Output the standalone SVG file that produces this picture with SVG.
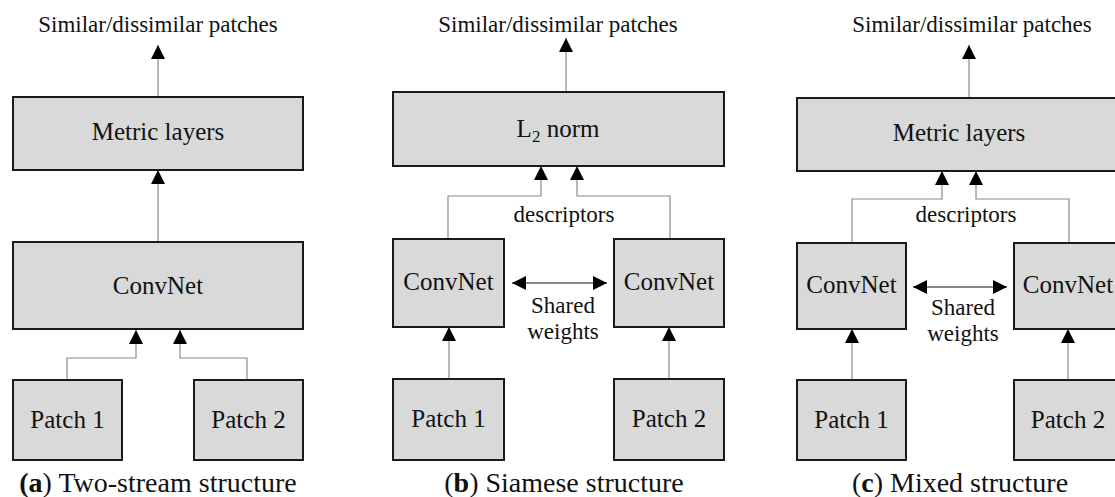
<svg xmlns="http://www.w3.org/2000/svg" width="1115" height="497" viewBox="0 0 1115 497">
<style>
.box{fill:#d9d9d9;stroke:#1a1a1a;stroke-width:2}
.t{font-family:"Liberation Serif","Times New Roman",serif;fill:#111;text-anchor:middle}
.lbl{font-size:25px}
.top{font-size:23px}
.small{font-size:23px}
.cap{font-size:28px}
.ln{fill:none;stroke:#8a8a8a;stroke-width:1.2}
.dbl{fill:none;stroke:#111;stroke-width:1.2}
</style>
<defs>
<marker id="ah" viewBox="0 0 14 14" refX="14" refY="7" markerWidth="14" markerHeight="14" markerUnits="userSpaceOnUse" orient="auto-start-reverse">
<path d="M0,0 L14,7 L0,14 Z" fill="#000"/>
</marker>
</defs>
<rect width="1115" height="497" fill="#fff"/>

<g id="connectors">
<!-- panel a -->
<line class="ln" x1="158" y1="97" x2="158" y2="45" marker-end="url(#ah)"/>
<line class="ln" x1="158" y1="242" x2="158" y2="170" marker-end="url(#ah)"/>
<polyline class="ln" points="67,380 67,358 136,358 136,330" marker-end="url(#ah)"/>
<polyline class="ln" points="247,380 247,358 180,358 180,330" marker-end="url(#ah)"/>
<!-- panel b -->
<line class="ln" x1="566" y1="92" x2="566" y2="38" marker-end="url(#ah)"/>
<polyline class="ln" points="448,239 448,196 541,196 541,166" marker-end="url(#ah)"/>
<polyline class="ln" points="670,239 670,196 577,196 577,166" marker-end="url(#ah)"/>
<line class="dbl" x1="512" y1="283" x2="607" y2="283" marker-start="url(#ah)" marker-end="url(#ah)"/>
<line class="ln" x1="449" y1="379" x2="449" y2="327" marker-end="url(#ah)"/>
<line class="ln" x1="669" y1="379" x2="669" y2="327" marker-end="url(#ah)"/>
<!-- panel c -->
<line class="ln" x1="969" y1="98" x2="969" y2="45" marker-end="url(#ah)"/>
<polyline class="ln" points="852,243 852,199 942,199 942,171" marker-end="url(#ah)"/>
<polyline class="ln" points="1069,243 1069,199 976,199 976,171" marker-end="url(#ah)"/>
<line class="dbl" x1="913" y1="287" x2="1007" y2="287" marker-start="url(#ah)" marker-end="url(#ah)"/>
<line class="ln" x1="852" y1="380" x2="852" y2="329" marker-end="url(#ah)"/>
<line class="ln" x1="1068" y1="380" x2="1068" y2="329" marker-end="url(#ah)"/>
</g>

<!-- panel a -->
<g id="a-out"><text class="t top" x="158" y="32">Similar/dissimilar patches</text></g>
<g id="a-metric"><rect class="box" x="13" y="97" width="290" height="73"/><text class="t lbl" x="158" y="140">Metric layers</text></g>
<g id="a-convnet"><rect class="box" x="13" y="242" width="290" height="87"/><text class="t lbl" x="158" y="294">ConvNet</text></g>
<g id="a-patch1"><rect class="box" x="13" y="380" width="109" height="80"/><text class="t lbl" x="67.5" y="428">Patch 1</text></g>
<g id="a-patch2"><rect class="box" x="194" y="380" width="109" height="80"/><text class="t lbl" x="248.5" y="428">Patch 2</text></g>
<g id="a-caption"><text class="t cap" x="158" y="492"><tspan font-weight="bold">(a</tspan>) Two-stream structure</text></g>

<!-- panel b -->
<g id="b-out"><text class="t top" x="558" y="32">Similar/dissimilar patches</text></g>
<g id="b-l2"><rect class="box" x="393" y="92" width="331" height="74"/><text class="t lbl" x="558" y="137">L<tspan font-size="17" dy="5">2</tspan><tspan dy="-5"> norm</tspan></text></g>
<g id="b-desc"><text class="t small" x="564" y="222">descriptors</text></g>
<g id="b-conv1"><rect class="box" x="393" y="239" width="111" height="88"/><text class="t lbl" x="448.5" y="290">ConvNet</text></g>
<g id="b-conv2"><rect class="box" x="614" y="239" width="110" height="88"/><text class="t lbl" x="669" y="290">ConvNet</text></g>
<g id="b-shared"><text class="t small" x="563" y="313">Shared</text><text class="t small" x="563" y="339">weights</text></g>
<g id="b-patch1"><rect class="box" x="393" y="379" width="111" height="81"/><text class="t lbl" x="448.5" y="427">Patch 1</text></g>
<g id="b-patch2"><rect class="box" x="614" y="379" width="110" height="81"/><text class="t lbl" x="669" y="427">Patch 2</text></g>
<g id="b-caption"><text class="t cap" x="564" y="492">(<tspan font-weight="bold">b</tspan>) Siamese structure</text></g>

<!-- panel c -->
<g id="c-out"><text class="t top" x="972" y="32">Similar/dissimilar patches</text></g>
<g id="c-metric"><rect class="box" x="797" y="98" width="340" height="73"/><text class="t lbl" x="959" y="141">Metric layers</text></g>
<g id="c-desc"><text class="t small" x="966" y="222">descriptors</text></g>
<g id="c-conv1"><rect class="box" x="797" y="243" width="109" height="86"/><text class="t lbl" x="851.5" y="293">ConvNet</text></g>
<g id="c-conv2"><rect class="box" x="1014" y="243" width="109" height="86"/><text class="t lbl" x="1068" y="293">ConvNet</text></g>
<g id="c-shared"><text class="t small" x="963" y="315">Shared</text><text class="t small" x="963" y="341">weights</text></g>
<g id="c-patch1"><rect class="box" x="797" y="380" width="109" height="80"/><text class="t lbl" x="851.5" y="428">Patch 1</text></g>
<g id="c-patch2"><rect class="box" x="1014" y="380" width="109" height="80"/><text class="t lbl" x="1068" y="428">Patch 2</text></g>
<g id="c-caption"><text class="t cap" x="960" y="492">(<tspan font-weight="bold">c</tspan>) Mixed structure</text></g>
</svg>
